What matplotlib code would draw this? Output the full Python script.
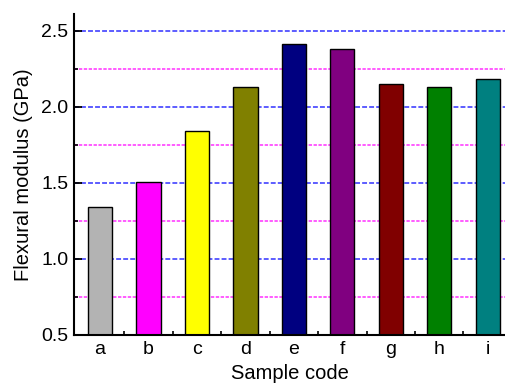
import matplotlib
matplotlib.use("Agg")
import matplotlib.pyplot as plt
from matplotlib.ticker import MultipleLocator, FormatStrFormatter
import numpy as np

plt.rcParams['font.family'] = ['Liberation Sans', 'DejaVu Sans']

samples = ['a', 'b', 'c', 'd', 'e', 'f', 'g', 'h', 'i']
modulus = [1.344, 1.505, 1.844, 2.127, 2.414, 2.377, 2.147, 2.130, 2.180]
colors = ['#b3b3b3', '#ff00ff', '#ffff00', '#808000', '#000080',
          '#800080', '#800000', '#008000', '#008080']

fig = plt.figure(figsize=(5.05, 3.85), dpi=100)
ax = fig.add_axes([0.1465, 0.1299, 0.8535, 0.8337])

x = np.arange(len(samples))
ax.bar(x, np.array(modulus) - 0.5, bottom=0.5, width=0.5, color=colors,
       edgecolor='black', linewidth=1.0, zorder=3)

ax.set_xlim(-0.537, 8.357)
ax.set_ylim(0.5, 2.61)
ax.set_xticks(x)
ax.set_xticklabels(samples)
ax.set_xticks(x[:-1] + 0.5, minor=True)
ax.yaxis.set_major_locator(MultipleLocator(0.5))
ax.yaxis.set_minor_locator(MultipleLocator(0.25))
ax.yaxis.set_major_formatter(FormatStrFormatter('%.1f'))

# grid lines
for yv in [1.0, 1.5, 2.0, 2.5]:
    ax.axhline(yv, color='#3030ff', linewidth=1.1, linestyle=(0, (3.2, 1.4)), zorder=1)
for yv in [0.75, 1.25, 1.75, 2.25]:
    ax.axhline(yv, color='#ff30ff', linewidth=1.1, linestyle=(0, (2.2, 1.0)), zorder=1)

for s in ['top', 'right']:
    ax.spines[s].set_visible(False)
for s in ['left', 'bottom']:
    ax.spines[s].set_linewidth(1.5)
    ax.spines[s].set_zorder(4)

ax.tick_params(which='major', direction='in', length=6, width=1.3, labelsize=14, pad=4)
ax.tick_params(which='minor', direction='in', length=3, width=1.2)
ax.tick_params(axis='x', which='major', pad=4)

ax.set_xlabel('Sample code', fontsize=14.5, labelpad=5)
ax.set_ylabel('Flexural modulus (GPa)', fontsize=14.5, labelpad=6)

fig.savefig('out.png', dpi=100)
